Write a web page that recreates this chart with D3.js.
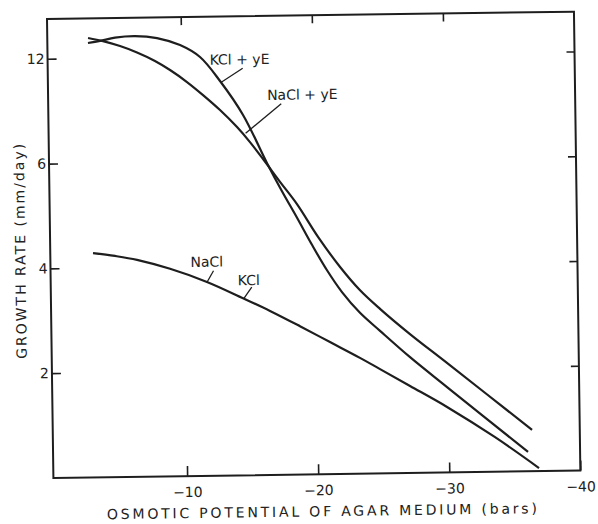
<!DOCTYPE html>
<html>
<head>
<meta charset="utf-8">
<script src="https://cdn.jsdelivr.net/npm/d3@7"></script>
<style>
body { margin: 0; background: #fff; }
text { font-family: "DejaVu Sans", sans-serif; fill: #222; }
</style>
</head>
<body>
<script>
// osmotic potential (bars) / growth rate (mm/day)
var kclYeX = [-2.9, -3.82, -4.97, -6.49, -8.17, -9.92, -11.43, -12.93, -14.65, -16.43, -17.54, -18.66, -19.77, -20.89, -22.01, -23.36, -24.87, -27.13, -29.92, -36.03];
var kclYeY = [12.87, 12.98, 13.16, 13.23, 13.10, 12.68, 11.98, 10.59, 8.63, 5.95, 5.41, 4.90, 4.38, 3.89, 3.47, 3.07, 2.72, 2.21, 1.63, 0.37];

var naclYeX = [-2.91, -4.05, -5.34, -6.63, -7.99, -9.13, -10.41, -11.62, -12.90, -14.18, -15.15, -16.13, -17.40, -18.67, -20.24, -21.89, -23.39, -24.89, -27.15, -29.94, -36.36];
var naclYeY = [13.16, 12.97, 12.67, 12.29, 11.79, 11.26, 10.56, 9.80, 8.93, 7.94, 7.07, 6.09, 5.59, 5.16, 4.53, 3.95, 3.50, 3.14, 2.65, 2.09, 0.79];

// NaCl and KCl share one curve
var saltX = [-3.06, -4.73, -6.41, -8.92, -11.72, -14.45, -16.50, -18.77, -21.04, -23.31, -24.83, -27.10, -29.90, -33.53, -36.85];
var saltY = [4.28, 4.22, 4.14, 3.96, 3.70, 3.38, 3.13, 2.83, 2.52, 2.21, 1.99, 1.66, 1.25, 0.66, 0.06];

var xTicks = [-10, -20, -30, -40];
var yTicks = [2, 4, 6, 12];

var series = [
    { x: kclYeX, y: kclYeY },
    { x: naclYeX, y: naclYeY },
    { x: saltX, y: saltY }
];

// curve labels with their leader lines (frame pixels)
var labels = [
    { text: "KCl + yE", tx: 162, ty: 48, x1: 173, y1: 66, x2: 195, y2: 52 },
    { text: "NaCl + yE", tx: 219, ty: 84, x1: 197, y1: 117, x2: 233, y2: 88 },
    { text: "NaCl", tx: 140, ty: 250, x1: 156, y1: 266, x2: 163, y2: 254 },
    { text: "KCl", tx: 187, ty: 269, x1: 193, y1: 282, x2: 201, y2: 271 }
];

var width = 527, height = 459;
var ink = "#1e1e1e";

var svg = d3.select("body").append("svg")
    .attr("width", 598)
    .attr("height", 524);

// the scanned figure sits slightly tilted
var g = svg.append("g")
    .attr("transform", "translate(47,19) rotate(-0.8)");

var xScale = d3.scaleLinear()
    .domain([0.2, -40])
    .range([0, width]);

// tick marks are evenly spaced even though the values are not
var step = 104.8;
var yScale = d3.scaleLinear()
    .domain([0].concat(yTicks))
    .range([0, 1, 2, 3, 4].map(function (i) { return height - i * step; }));

var line = d3.line()
    .x(function (d) { return xScale(d[0]); })
    .y(function (d) { return yScale(d[1]); })
    .curve(d3.curveCatmullRom.alpha(0.5));

// frame
g.append("rect")
    .attr("width", width)
    .attr("height", height)
    .attr("fill", "none")
    .attr("stroke", ink)
    .attr("stroke-width", 2);

function styleAxis(sel) {
    sel.select(".domain").remove();
    sel.selectAll("line").attr("stroke", ink).attr("stroke-width", 1.6);
    sel.selectAll("text").attr("font-size", 14).attr("fill", ink)
        .attr("font-family", "DejaVu Sans, sans-serif");
}

g.append("g")
    .attr("transform", "translate(0," + height + ")")
    .call(d3.axisBottom(xScale).tickValues(xTicks).tickSize(-10).tickPadding(11)
        .tickFormat(function (d) { return "\u2212" + Math.abs(d); }))
    .call(styleAxis);

g.append("g")
    .call(d3.axisTop(xScale).tickValues(xTicks.slice(0, 3)).tickSize(-8).tickFormat(""))
    .call(styleAxis);

g.append("g")
    .call(d3.axisLeft(yScale).tickValues(yTicks).tickSize(-9).tickPadding(3))
    .call(styleAxis);

g.append("g")
    .attr("transform", "translate(" + width + ",0)")
    .call(d3.axisRight(yScale).tickValues(yTicks).tickSize(-8).tickFormat(""))
    .call(styleAxis);

// curves
g.selectAll(".curve")
    .data(series)
    .enter().append("path")
    .attr("class", "curve")
    .attr("d", function (s) { return line(d3.zip(s.x, s.y)); })
    .attr("fill", "none")
    .attr("stroke", ink)
    .attr("stroke-width", 2.2);

// labels
g.selectAll(".leader")
    .data(labels)
    .enter().append("line")
    .attr("class", "leader")
    .attr("x1", function (d) { return d.x1; })
    .attr("y1", function (d) { return d.y1; })
    .attr("x2", function (d) { return d.x2; })
    .attr("y2", function (d) { return d.y2; })
    .attr("stroke", ink)
    .attr("stroke-width", 1.3);

g.selectAll(".lab")
    .data(labels)
    .enter().append("text")
    .attr("class", "lab")
    .attr("x", function (d) { return d.tx; })
    .attr("y", function (d) { return d.ty; })
    .attr("font-size", 14)
    .text(function (d) { return d.text; });

// axis titles
g.append("text")
    .attr("x", 268)
    .attr("y", 501)
    .attr("text-anchor", "middle")
    .attr("font-size", 14)
    .attr("textLength", 430)
    .attr("lengthAdjust", "spacing")
    .text("OSMOTIC POTENTIAL OF AGAR MEDIUM (bars)");

g.append("text")
    .attr("transform", "translate(-25,232) rotate(-90)")
    .attr("text-anchor", "middle")
    .attr("font-size", 14)
    .attr("textLength", 215)
    .attr("lengthAdjust", "spacing")
    .text("GROWTH RATE (mm/day)");
</script>
</body>
</html>
